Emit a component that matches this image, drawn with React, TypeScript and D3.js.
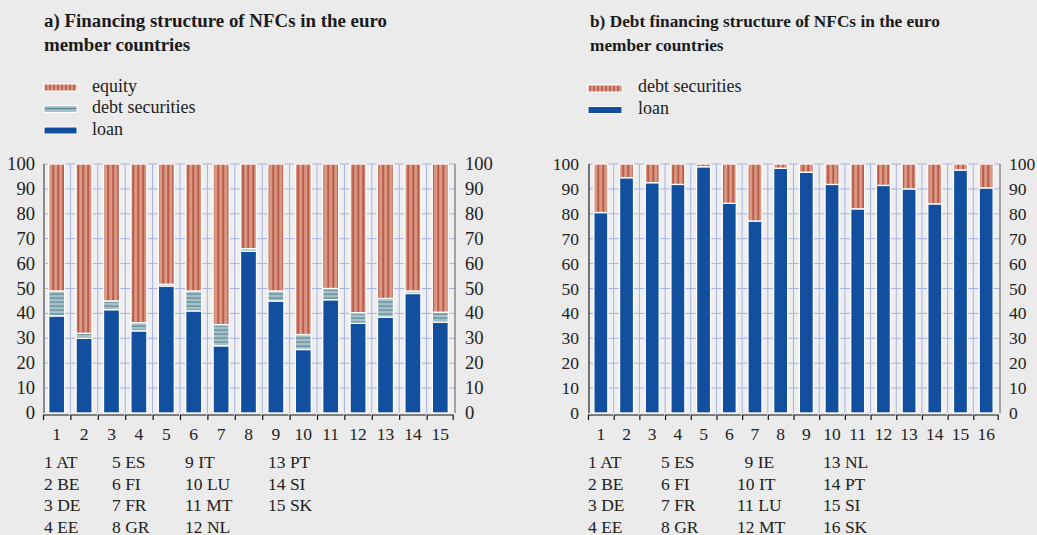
import React from "react";
import * as d3 from "d3";

const countriesA = ["AT", "BE", "DE", "EE", "ES", "FI", "FR", "GR", "IT", "LU", "MT", "NL", "PT", "SI", "SK"];
const loanA = [39, 30, 41.5, 33, 51, 41, 27, 65, 45, 25.5, 45.5, 36, 38.5, 48, 36.5];
const debtA = [10, 2, 3.5, 3.3, 0.7, 8, 8.5, 1, 4, 6, 4.5, 4.3, 7.5, 1, 4];

const countriesB = ["AT", "BE", "DE", "EE", "ES", "FI", "FR", "GR", "IE", "IT", "LU", "MT", "NL", "PT", "SI", "SK"];
const loanB = [80.5, 94.5, 92.5, 91.8, 98.9, 84.2, 77.1, 98.3, 96.7, 91.8, 82, 91.4, 90, 84, 97.6, 90.4];

const yTicks = [0, 10, 20, 30, 40, 50, 60, 70, 80, 90, 100];

const FONT = "'Liberation Serif', 'Times New Roman', serif";
const BG = "#ebebeb";
const PLOT_BG = "#efefef";
const GRID = "#a7b2e4";
const BLUE = "#124f9f";

type Seg = { key: string; v0: number; v1: number; fill: string };

function Panel(props: {
  x0: number; x1: number; axisL: number; axisR: number; barW: number;
  labels: string[]; stacks: Seg[][]; leftAxisColor: string; leftAxisW: number;
  labelLeftEnd: number; labelRightStart: number; tickFont: number;
}) {
  const { x0, x1, axisL, axisR, barW, labels, stacks, tickFont } = props;
  const y = d3.scaleLinear().domain([0, 100]).range([413, 164]);
  const n = labels.length;
  const x = d3.scaleBand<number>().domain(d3.range(n)).range([x0, x1]).padding(0);
  const bw = x.bandwidth();
  const axisY = 415;
  return (
    <g>
      <rect x={axisL} y={y(100)} width={axisR - axisL} height={y(0) - y(100)} fill={PLOT_BG} />
      {yTicks.slice(1).map((t) => (
        <line key={"h" + t} x1={axisL} x2={axisR} y1={y(t)} y2={y(t)} stroke={GRID} strokeWidth={1} />
      ))}
      {d3.range(1, n).map((i) => (
        <line key={"v" + i} x1={x(i)!} x2={x(i)!} y1={y(100)} y2={y(0)} stroke={GRID} strokeWidth={1} />
      ))}
      {stacks.map((segs, i) => {
        const cx = x(i)! + bw / 2;
        return (
          <g key={"b" + i}>
            {segs.map((s) => (
              <rect key={s.key} x={cx - barW / 2} y={y(s.v1)} width={barW}
                height={Math.max(0, y(s.v0) - y(s.v1))} fill={s.fill}
                stroke="#ffffff" strokeWidth={1.3} />
            ))}
          </g>
        );
      })}
      <line x1={axisL} x2={axisL} y1={y(100)} y2={y(0)} stroke={props.leftAxisColor} strokeWidth={props.leftAxisW} />
      <line x1={axisR} x2={axisR} y1={y(100)} y2={y(0)} stroke="#8a8a8a" strokeWidth={1.5} />
      {d3.range(n).map((i) => {
        const a = x(i)! + 0.5;
        const b = x(i)! + bw - 0.8;
        return (
          <path key={"t" + i} d={`M${a},${axisY + 5}V${axisY}H${b}${i === n - 1 ? `V${axisY + 5}` : ""}`}
            fill="none" stroke="#111" strokeWidth={1.2} />
        );
      })}
      {yTicks.map((t) => (
        <g key={"yl" + t}>
          <text x={props.labelLeftEnd} y={y(t) + 6} textAnchor="end" fontSize={tickFont} fontFamily={FONT} fill="#222">{t}</text>
          <text x={props.labelRightStart} y={y(t) + 6} textAnchor="start" fontSize={tickFont} fontFamily={FONT} fill="#222">{t}</text>
        </g>
      ))}
      {labels.map((_, i) => (
        <text key={"xl" + i} x={x(i)! + bw / 2} y={440} textAnchor="middle" fontSize={17.5} fontFamily={FONT} fill="#222">{i + 1}</text>
      ))}
    </g>
  );
}

function CountryList(props: { labels: string[]; cols: number[]; offsets?: (i: number) => number }) {
  const rows = [468, 489.5, 511, 532.5];
  return (
    <g>
      {props.labels.map((c, i) => {
        const col = Math.floor(i / 4);
        const row = i % 4;
        const dx = props.offsets ? props.offsets(i) : 0;
        return (
          <text key={c + i} x={props.cols[col] + dx} y={rows[row]} fontSize={17.5} fontFamily={FONT} fill="#222">
            {`${i + 1} ${c}`}
          </text>
        );
      })}
    </g>
  );
}

export default function App() {
  const stacksA: Seg[][] = loanA.map((l, i) => [
    { key: "loan", v0: 0, v1: l, fill: BLUE },
    { key: "debt", v0: l, v1: l + debtA[i], fill: "url(#patDebt)" },
    { key: "eq", v0: l + debtA[i], v1: 100, fill: "url(#patEq)" },
  ]);
  const stacksB: Seg[][] = loanB.map((l) => [
    { key: "loan", v0: 0, v1: l, fill: BLUE },
    { key: "debt", v0: l, v1: 100, fill: "url(#patEq)" },
  ]);

  const legendA = [
    { label: "equity", fill: "url(#patEqL)" },
    { label: "debt securities", fill: "url(#patDebtL)" },
    { label: "loan", fill: BLUE },
  ];
  const legendB = [
    { label: "debt securities", fill: "url(#patEqL)" },
    { label: "loan", fill: BLUE },
  ];

  return (
    <div style={{ position: "fixed", left: 0, top: 0, width: 1037, height: 535, background: BG }}>
      <svg width={1037} height={535} style={{ display: "block" }}>
        <defs>
          <pattern id="patEq" patternUnits="userSpaceOnUse" width={5} height={10} x={0.5}>
            <rect width={5} height={10} fill="#d99984" />
            <rect x={2} width={1.3} height={10} fill="#a93a2d" />
          </pattern>
          <pattern id="patDebt" patternUnits="userSpaceOnUse" width={10} height={4}>
            <rect width={10} height={4} fill="#a9c0c8" />
            <rect y={1.5} width={10} height={1.2} fill="#5a8b98" />
          </pattern>
          <pattern id="patEqL" patternUnits="userSpaceOnUse" width={4} height={10}>
            <rect width={4} height={10} fill="#d99984" />
            <rect x={1.5} width={1.1} height={10} fill="#a93a2d" />
          </pattern>
          <pattern id="patDebtL" patternUnits="userSpaceOnUse" width={10} height={7} y={0}>
            <rect width={10} height={7} fill="#a9c0c8" />
            <rect y={3} width={10} height={1.3} fill="#5a8b98" />
          </pattern>
        </defs>
        <rect width={1037} height={535} fill={BG} />

        {/* Titles */}
        <text x={44} y={27} fontSize={18.9} fontWeight="bold" fontFamily={FONT} fill="#1a1a1a">a) Financing structure of NFCs in the euro</text>
        <text x={44} y={51} fontSize={18.9} fontWeight="bold" fontFamily={FONT} fill="#1a1a1a">member countries</text>
        <text x={590} y={27} fontSize={17.3} fontWeight="bold" fontFamily={FONT} fill="#1a1a1a">b) Debt financing structure of NFCs in the euro</text>
        <text x={590} y={51} fontSize={17.3} fontWeight="bold" fontFamily={FONT} fill="#1a1a1a">member countries</text>

        {/* Legends */}
        {legendA.map((d, i) => (
          <g key={d.label}>
            <rect x={44} y={84 + i * 21.5} width={33} height={7} fill={d.fill} stroke="#fff" strokeWidth={1} />
            <text x={92} y={91.5 + i * 21.5} fontSize={18} fontFamily={FONT} fill="#222">{d.label}</text>
          </g>
        ))}
        {legendB.map((d, i) => (
          <g key={d.label}>
            <rect x={588} y={85 + i * 21.5} width={34} height={7} fill={d.fill} stroke="#fff" strokeWidth={1} />
            <text x={638} y={92 + i * 21.5} fontSize={18} fontFamily={FONT} fill="#222">{d.label}</text>
          </g>
        ))}

        <Panel x0={43} x1={454} axisL={44} axisR={455} barW={16} labels={countriesA} stacks={stacksA}
          leftAxisColor="#8a8a8a" leftAxisW={2} labelLeftEnd={35} labelRightStart={465} tickFont={18.6} />
        <Panel x0={588} x1={999} axisL={589} axisR={1000} barW={14} labels={countriesB} stacks={stacksB}
          leftAxisColor="#222" leftAxisW={1.2} labelLeftEnd={579} labelRightStart={1009} tickFont={17.5} />

        <CountryList labels={countriesA} cols={[44, 112, 185, 268]} />
        <CountryList labels={countriesB} cols={[588, 661, 737, 823]} offsets={(i) => (i === 8 ? 7.5 : 0)} />
      </svg>
    </div>
  );
}
